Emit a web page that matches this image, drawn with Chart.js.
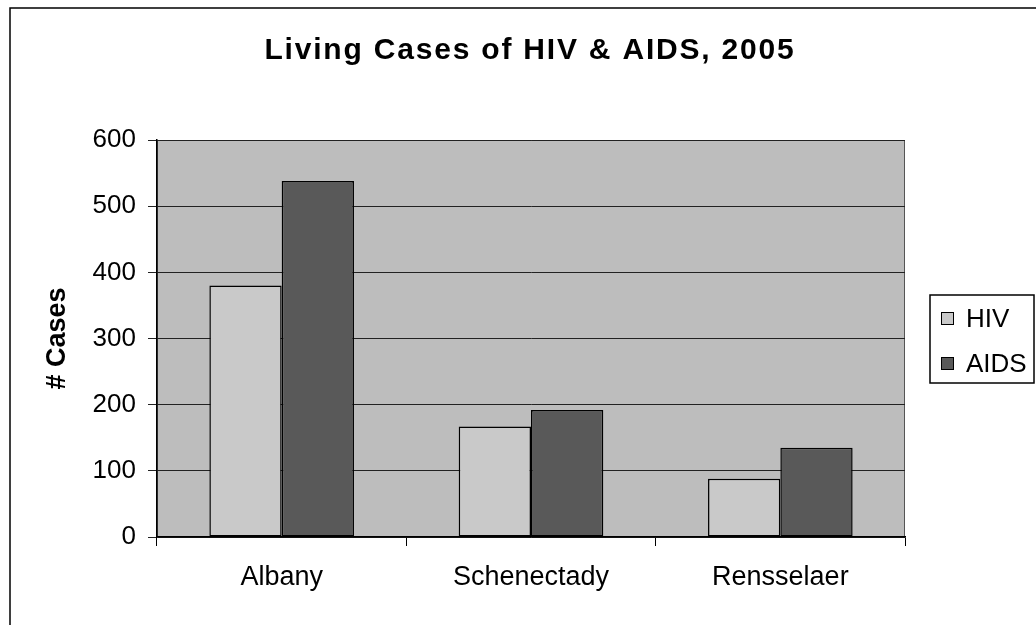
<!DOCTYPE html>
<html><head><meta charset="utf-8">
<script src="https://cdn.jsdelivr.net/npm/chart.js@4/dist/chart.umd.min.js"></script>
<style>html,body{margin:0;padding:0;background:#fff}#wrap{width:1036px;height:625px;position:relative}</style>
</head><body><div id="wrap"><canvas id="c" width="1036" height="625"></canvas></div>
<script>
const categories = ['Albany', 'Schenectady', 'Rensselaer'];
const hivValues = [380, 167, 88];
const aidsValues = [538, 192, 135];
const seriesLabels = ['HIV', 'AIDS'];
const yTickValues = [0, 100, 200, 300, 400, 500, 600];
const chartTitle = 'Living Cases of HIV & AIDS, 2005';
const yAxisTitle = '# Cases';

const FONT = '"Liberation Sans", Arial, sans-serif';
const colors = ['#c9c9c9', '#595959'];

const framePlugin = {
  id: 'frame',
  beforeDraw(chart) {
    const ctx = chart.ctx, a = chart.chartArea;
    ctx.save();
    ctx.fillStyle = '#fff';
    ctx.fillRect(0, 0, chart.width, chart.height);
    ctx.strokeStyle = '#000';
    ctx.lineWidth = 1.5;
    ctx.strokeRect(10, 8, chart.width + 20, chart.height + 20);
    ctx.fillStyle = '#bdbdbd';
    ctx.fillRect(a.left, a.top, a.right - a.left, a.bottom - a.top);
    ctx.strokeStyle = '#555';
    ctx.lineWidth = 1;
    ctx.strokeRect(a.left + 0.5, a.top + 0.5, a.right - a.left - 1, a.bottom - a.top - 1);
    ctx.restore();
  },
  afterDraw(chart) {
    const ctx = chart.ctx;
    ctx.save();
    // title
    ctx.font = 'bold 30px ' + FONT;
    ctx.fillStyle = '#000';
    ctx.textAlign = 'center';
    ctx.textBaseline = 'alphabetic';
    ctx.letterSpacing = '1.8px';
    ctx.fillText(chartTitle, 530, 59);
    ctx.letterSpacing = '0px';
    // legend
    ctx.strokeStyle = '#000';
    ctx.lineWidth = 1.5;
    ctx.strokeRect(930, 295, 104, 88);
    ctx.font = '26px ' + FONT;
    ctx.textAlign = 'left';
    const rows = [318, 363];
    chart.data.datasets.forEach((ds, i) => {
      ctx.fillStyle = ds.backgroundColor;
      ctx.fillRect(941, rows[i] - 6, 13, 13);
      ctx.lineWidth = 1;
      ctx.strokeRect(941.5, rows[i] - 5.5, 12, 12);
      ctx.fillStyle = '#000';
      ctx.fillText(ds.label, 966, rows[i] + 9);
    });
    ctx.restore();
  }
};

new Chart(document.getElementById('c'), {
  type: 'bar',
  data: {
    labels: categories,
    datasets: [
      { label: seriesLabels[0], data: hivValues, backgroundColor: colors[0], borderColor: '#000', borderWidth: 1.5, borderSkipped: false },
      { label: seriesLabels[1], data: aidsValues, backgroundColor: colors[1], borderColor: '#000', borderWidth: 1.5, borderSkipped: false }
    ]
  },
  options: {
    responsive: false,
    animation: false,
    devicePixelRatio: 1,
    layout: { padding: { top: 140, right: 131, left: 0, bottom: 0 } },
    plugins: { legend: { display: false }, title: { display: false }, tooltip: { enabled: false } },
    datasets: { bar: { categoryPercentage: 0.58, barPercentage: 1.0 } },
    scales: {
      x: {
        grid: { display: true, drawOnChartArea: false, drawTicks: true, tickLength: 9, color: '#000', offset: true },
        border: { display: true, color: '#000', width: 1.5 },
        ticks: { color: '#000', font: { family: FONT, size: 27 }, padding: 15, maxRotation: 0 },
        afterFit(s) { s.height = 88; }
      },
      y: {
        min: 0, max: 600,
        afterBuildTicks(s) { s.ticks = yTickValues.map(v => ({ value: v })); },
        grid: { color: '#222', lineWidth: 1, tickLength: 9, drawTicks: true },
        border: { display: true, color: '#000', width: 1.5 },
        ticks: { color: '#000', font: { family: FONT, size: 26 }, padding: 12 },
        title: { display: true, text: yAxisTitle, color: '#000', font: { family: FONT, size: 27, weight: 'bold' }, padding: { top: 41, bottom: 0 } },
        afterFit(s) { s.width = 157; }
      }
    }
  },
  plugins: [framePlugin]
});
</script>
</body></html>
